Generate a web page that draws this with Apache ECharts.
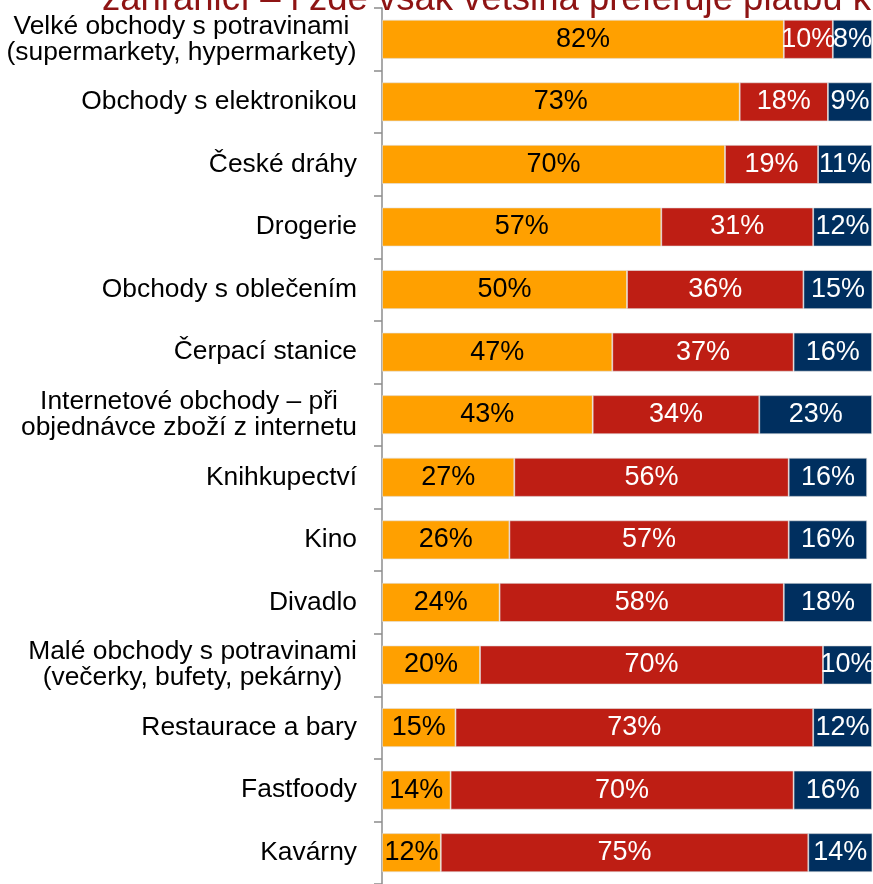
<!DOCTYPE html>
<html>
<head>
<meta charset="utf-8">
<script src="https://cdn.jsdelivr.net/npm/echarts@6/dist/echarts.min.js"></script>
<style>
  html, body { margin: 0; padding: 0; background: #fff; }
  #chart { width: 873px; height: 884px; }
</style>
</head>
<body>
<div id="chart"></div>
<script>
// Categories (top to bottom)
const categories = [
  'Velké obchody s potravinami\n(supermarkety, hypermarkety)',
  'Obchody s elektronikou',
  'České dráhy',
  'Drogerie',
  'Obchody s oblečením',
  'Čerpací stanice',
  'Internetové obchody – při\nobjednávce zboží z internetu',
  'Knihkupectví',
  'Kino',
  'Divadlo',
  'Malé obchody s potravinami\n(večerky, bufety, pekárny)',
  'Restaurace a bary',
  'Fastfoody',
  'Kavárny'
];

// Shares in percent for the three stacked segments
const shareOrange = [82, 73, 70, 57, 50, 47, 43, 27, 26, 24, 20, 15, 14, 12];
const shareRed    = [10, 18, 19, 31, 36, 37, 34, 56, 57, 58, 70, 73, 70, 75];
const shareNavy   = [ 8,  9, 11, 12, 15, 16, 23, 16, 16, 18, 10, 12, 16, 14];

const headline = 'zahraničí – i zde však většina preferuje platbu k';

const FONT = '"Liberation Sans", Arial, sans-serif';
const LABEL_SIZE = 26.4;

// Measure multi-line category labels so their lines can be centred on each other
const measureCtx = document.createElement('canvas').getContext('2d');
measureCtx.font = LABEL_SIZE + 'px ' + FONT;
const rich = {};
categories.forEach((c, i) => {
  const lines = c.split('\n');
  if (lines.length > 1) {
    const w = Math.ceil(Math.max(...lines.map(l => measureCtx.measureText(l).width)));
    rich['c' + i] = {
      width: w, align: 'center', fontSize: LABEL_SIZE, lineHeight: 26,
      fontFamily: FONT, color: '#000'
    };
  }
});

const chart = echarts.init(document.getElementById('chart'), null, { renderer: 'canvas' });

function seriesOf(name, data, color, textColor) {
  return {
    name: name,
    type: 'bar',
    stack: 'total',
    data: data,
    barWidth: 39,
    itemStyle: { color: color, borderColor: 'rgba(225,225,225,0.8)', borderWidth: 0.8 },
    label: {
      show: true,
      position: 'inside',
      formatter: '{c}%',
      color: textColor,
      fontSize: 27,
      fontFamily: FONT
    },
    emphasis: { disabled: true }
  };
}

chart.setOption({
  animation: false,
  backgroundColor: '#fff',
  grid: { left: 382, right: 1, top: 8, bottom: -3, containLabel: false },
  xAxis: {
    type: 'value',
    min: 0,
    max: 100,
    show: false
  },
  yAxis: {
    type: 'category',
    inverse: true,
    data: categories,
    axisLine: { show: true, lineStyle: { color: '#8c8c8c', width: 1.5 } },
    axisTick: { show: true, length: 8, lineStyle: { color: '#8c8c8c', width: 1.5 } },
    axisLabel: {
      margin: 25,
      fontSize: LABEL_SIZE,
      fontFamily: FONT,
      color: '#000',
      lineHeight: 26,
      formatter: (value, idx) => {
        const lines = value.split('\n');
        if (lines.length === 1) return value;
        return lines.map(l => '{c' + idx + '|' + l + '}').join('\n');
      },
      rich: rich
    }
  },
  series: [
    seriesOf('oranžová', shareOrange, '#FFA000', '#000'),
    seriesOf('červená', shareRed, '#BE1E14', '#fff'),
    seriesOf('modrá', shareNavy, '#002F5F', '#fff')
  ],
  graphic: [{
    type: 'text',
    left: 102,
    top: -19,
    style: {
      text: headline,
      font: '36.5px ' + FONT,
      fill: '#8E1414'
    },
    z: 100
  }]
});
</script>
</body>
</html>
